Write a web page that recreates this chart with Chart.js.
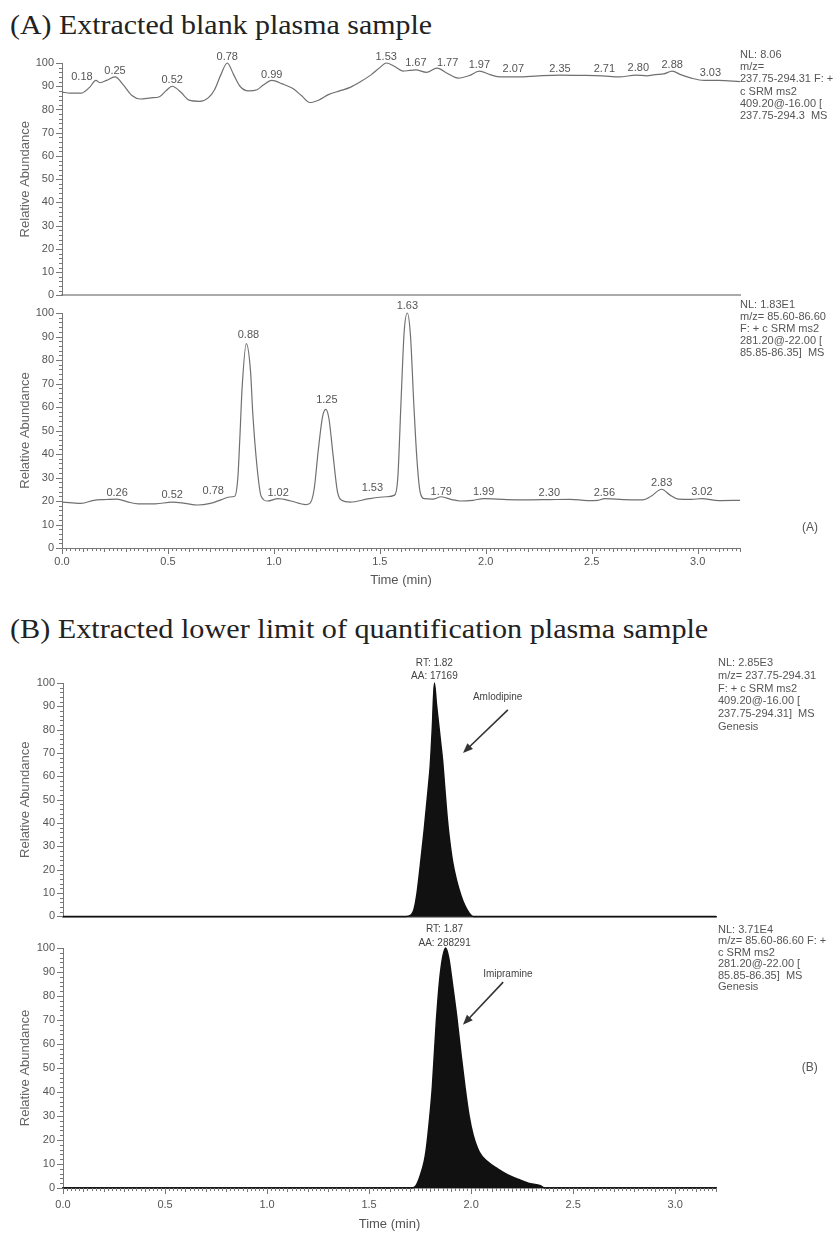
<!DOCTYPE html>
<html><head><meta charset="utf-8">
<script src="https://cdn.jsdelivr.net/npm/chart.js@4.4.1/dist/chart.umd.min.js"></script>
<style>
html,body{margin:0;padding:0;background:#fff;}
body{width:840px;height:1233px;position:relative;overflow:hidden;}
.title{position:absolute;left:10px;font-family:"Liberation Serif","Times New Roman",serif;font-size:27px;color:#222;white-space:nowrap;line-height:1;transform-origin:0 0;}
canvas{position:absolute;left:0;}
</style></head><body>
<div class="title" id="tA" style="top:12px">(A) Extracted blank plasma sample</div>
<div class="title" id="tB" style="top:616px">(B) Extracted lower limit of quantification plasma sample</div>
<canvas id="c1" width="840" height="270" style="top:40px"></canvas>
<canvas id="c2" width="840" height="294" style="top:298px"></canvas>
<canvas id="c3" width="840" height="281" style="top:650px"></canvas>
<canvas id="c4" width="840" height="315" style="top:918px"></canvas>
<script>
// ---------- data ----------
const xTickValues = [0, 0.5, 1.0, 1.5, 2.0, 2.5, 3.0];
const xTickLabels = ['0.0', '0.5', '1.0', '1.5', '2.0', '2.5', '3.0'];
const yTickValues = [0, 10, 20, 30, 40, 50, 60, 70, 80, 90, 100];
const yTickLabels = ['0', '10', '20', '30', '40', '50', '60', '70', '80', '90', '100'];

// (A) blank plasma, m/z 237.75-294.31
const aTopTime = [0.00,0.04,0.09,0.13,0.16,0.18,0.21,0.25,0.29,0.33,0.37,0.42,0.46,0.49,0.52,0.56,0.60,0.65,0.69,0.72,0.75,0.78,0.81,0.84,0.88,0.92,0.95,0.99,1.04,1.09,1.13,1.17,1.21,1.26,1.31,1.36,1.41,1.46,1.50,1.53,1.57,1.61,1.64,1.67,1.72,1.77,1.82,1.87,1.92,1.97,2.02,2.07,2.15,2.25,2.35,2.45,2.55,2.63,2.71,2.76,2.80,2.84,2.88,2.92,2.97,3.03,3.10,3.20];
const aTopVal = [87.5,87,87,89.5,92.5,91.5,92.5,94,90.5,86,84.5,85,85.5,88,90,87.5,84,83.5,85,88.5,95,100,95,90,88,88.5,90.5,92.5,91,89,86,83,84,86.5,88,89.5,92,95,98,100,98.5,96.5,96.8,97,96,97.8,95.5,93.5,94.5,96.5,95,94,94,94.5,94.8,94.7,94.5,94,94.8,94.5,95,95.3,96.5,95,93.5,92.5,92.5,92];
const aTopPeakTimes = [0.18,0.25,0.52,0.78,0.99,1.53,1.67,1.77,1.97,2.07,2.35,2.71,2.80,2.88,3.03];
const aTopPeakHeights = [91.1,93.6,89.8,99.6,92,99.6,97,97,96.2,94.5,94.5,94.5,94.9,96.2,92.8];

// (A) blank plasma, m/z 85.60-86.60
const aBotTime = [0.00,0.05,0.09,0.15,0.20,0.26,0.31,0.36,0.44,0.52,0.58,0.64,0.70,0.75,0.79,0.815,0.83,0.84,0.85,0.87,0.89,0.90,0.92,0.94,0.97,1.02,1.08,1.15,1.17,1.19,1.21,1.23,1.245,1.26,1.28,1.30,1.32,1.36,1.45,1.53,1.57,1.585,1.60,1.615,1.63,1.645,1.66,1.675,1.69,1.71,1.75,1.79,1.84,1.88,1.94,1.99,2.10,2.20,2.30,2.40,2.48,2.53,2.56,2.65,2.74,2.78,2.83,2.87,2.91,2.97,3.02,3.10,3.20];
const aBotVal = [19.5,19.2,19,20.3,20.6,20.8,19.6,18.8,18.8,19.5,19,18.3,19,20.5,21.7,22,30,48,68,87,75,58,35,22,20,21,20,18.5,19,25,42,56,59,55,39,24,20.3,19.5,21,21.8,22.5,30,62,92,100,90,62,38,24,21,20.8,21.8,20.6,20,20.3,21,20.6,20.5,20.6,20.7,20.2,20.3,21,20.6,20.5,22,25,22.5,20.8,20.7,21,20.2,20.3];
const aBotPeakTimes = [0.26,0.52,0.78,0.88,1.02,1.25,1.53,1.63,1.79,1.99,2.30,2.56,2.83,3.02];
const aBotPeakHeights = [20.4,19.6,21.3,87.7,20.4,60,22.6,100,20.9,20.9,20.4,20.4,24.7,20.9];

// (B) LLOQ plasma, amlodipine m/z 237.75-294.31
const bTopTime = [0,1.68,1.70,1.72,1.735,1.75,1.77,1.79,1.80,1.81,1.82,1.83,1.84,1.85,1.86,1.87,1.88,1.89,1.91,1.93,1.95,1.97,1.99,2.01,3.20];
const bTopVal = [0,0,0.3,3,10,21,37,55,65,81,100,91,83,75,67,56,45,36,23,15,9,4.5,1.5,0,0];

// (B) LLOQ plasma, imipramine m/z 85.60-86.60
const bBotTime = [0,1.71,1.73,1.75,1.77,1.78,1.80,1.81,1.83,1.85,1.875,1.89,1.91,1.93,1.95,1.97,1.99,2.01,2.04,2.08,2.13,2.18,2.22,2.28,2.34,2.36,3.20];
const bBotVal = [0,0,1,5,11,16,32,42,70,90,100,96,84,71,56,42,30,22,15,11,8,5.5,4,2,1,0,0];

// ---------- plugins ----------
const FONT = '"Liberation Sans", Arial, sans-serif';
Chart.defaults.font.family = FONT;
Chart.defaults.color = '#555';

const rulerPlugin = {
  id: 'ruler',
  afterDraw(chart, args, o) {
    const ctx = chart.ctx, xs = chart.scales.x, ys = chart.scales.y, ca = chart.chartArea;
    ctx.save();
    ctx.strokeStyle = '#777';
    ctx.lineWidth = 1;
    for (let v = 0; v <= 100; v += 2) {
      const y = Math.round(ys.getPixelForValue(v)) + 0.5;
      const len = v % 10 === 0 ? 6 : 3;
      ctx.beginPath(); ctx.moveTo(ca.left - len, y); ctx.lineTo(ca.left, y); ctx.stroke();
    }
    if (o && o.xRuler) {
      for (let i = 0; i <= 160; i++) {
        const x = Math.round(xs.getPixelForValue(i * 0.02)) + 0.5;
        const len = i % 25 === 0 ? 6 : (i % 5 === 0 ? 4 : 3);
        ctx.beginPath(); ctx.moveTo(x, ca.bottom); ctx.lineTo(x, ca.bottom + len); ctx.stroke();
      }
    }
    ctx.restore();
  }
};

const notesPlugin = {
  id: 'notes',
  afterDraw(chart, args, o) {
    if (!o) return;
    const ctx = chart.ctx, xs = chart.scales.x, ys = chart.scales.y, ca = chart.chartArea;
    ctx.save();
    ctx.textBaseline = 'middle';
    if (o.peaks) {
      ctx.font = '11px ' + FONT; ctx.fillStyle = '#555'; ctx.textAlign = 'center';
      o.peaks.times.forEach((t, i) => {
        const lbl = t.toFixed(2);
        const dt = (o.peaks.shift && o.peaks.shift[lbl]) || 0;
        ctx.fillText(lbl, xs.getPixelForValue(t + dt), ys.getPixelForValue(o.peaks.heights[i]) - 7);
      });
    }
    if (o.side) {
      ctx.font = '11px ' + FONT; ctx.fillStyle = '#555'; ctx.textAlign = 'left';
      o.side.lines.forEach((s, i) => ctx.fillText(s, ca.right + o.side.dx, ca.top + o.side.dy + i * o.side.lh));
    }
    (o.texts || []).forEach(tx => {
      ctx.font = tx.font; ctx.fillStyle = tx.color; ctx.textAlign = 'center';
      ctx.fillText(tx.text, xs.getPixelForValue(tx.t), ys.getPixelForValue(tx.v));
    });
    (o.arrows || []).forEach(a => {
      const x1 = xs.getPixelForValue(a.t1), y1 = ys.getPixelForValue(a.v1);
      const x2 = xs.getPixelForValue(a.t2), y2 = ys.getPixelForValue(a.v2);
      const ang = Math.atan2(y2 - y1, x2 - x1), hl = 10, hw = 4;
      ctx.strokeStyle = '#333'; ctx.fillStyle = '#333'; ctx.lineWidth = 1.6;
      ctx.beginPath(); ctx.moveTo(x1, y1);
      ctx.lineTo(x2 - Math.cos(ang) * hl * 0.8, y2 - Math.sin(ang) * hl * 0.8); ctx.stroke();
      ctx.beginPath(); ctx.moveTo(x2, y2);
      ctx.lineTo(x2 - Math.cos(ang) * hl - Math.sin(ang) * hw, y2 - Math.sin(ang) * hl + Math.cos(ang) * hw);
      ctx.lineTo(x2 - Math.cos(ang) * hl + Math.sin(ang) * hw, y2 - Math.sin(ang) * hl - Math.cos(ang) * hw);
      ctx.closePath(); ctx.fill();
    });
    ctx.restore();
  }
};

function panel(id, cfg) {
  return new Chart(document.getElementById(id), {
    type: 'line',
    data: { datasets: [{
      data: cfg.time.map((t, i) => ({ x: t, y: cfg.vals[i] })),
      borderColor: cfg.color, borderWidth: cfg.lw,
      backgroundColor: cfg.fill ? cfg.color : 'transparent',
      fill: cfg.fill ? 'origin' : false,
      pointRadius: 0, cubicInterpolationMode: 'monotone', clip: 4
    }]},
    options: {
      responsive: false, animation: false, devicePixelRatio: 1,
      layout: { padding: { left: 0, right: cfg.padR, top: cfg.padT, bottom: 0 } },
      plugins: { legend: { display: false }, tooltip: { enabled: false },
                 notes: cfg.notes, ruler: { xRuler: cfg.xLabels } },
      scales: {
        x: {
          type: 'linear', min: 0, max: 3.2,
          afterBuildTicks: s => { s.ticks = xTickValues.map(v => ({ value: v })); },
          afterFit: s => { s.height = cfg.xH; },
          grid: { display: false, drawTicks: false },
          border: { display: true, color: cfg.xBorder, width: cfg.xBorderW },
          ticks: { display: cfg.xLabels, padding: cfg.xPad || 0, font: { size: 11 }, color: '#555',
                   maxRotation: 0, autoSkip: false, callback: (v, i) => xTickLabels[i] },
          title: { display: cfg.xLabels, text: 'Time (min)', font: { size: 13 }, color: '#555',
                   padding: { top: 0, bottom: cfg.xTitlePad || 0 } }
        },
        y: {
          min: 0, max: 100,
          afterBuildTicks: s => { s.ticks = yTickValues.map(v => ({ value: v })); },
          afterFit: s => { s.width = cfg.yW; },
          grid: { display: false, drawTicks: false },
          border: { display: true, color: '#777', width: 1 },
          ticks: { padding: 8, font: { size: 11 }, color: '#555', autoSkip: false,
                   callback: (v, i) => yTickLabels[i] },
          title: { display: true, text: 'Relative Abundance', font: { size: 13 }, color: '#666',
                   padding: { top: 18, bottom: 0 } }
        }
      }
    },
    plugins: [rulerPlugin, notesPlugin]
  });
}

panel('c1', {
  time: aTopTime, vals: aTopVal, color: '#707070', lw: 1.2, fill: false,
  padT: 23, padR: 100, xH: 11, yW: 62, xLabels: false, xBorder: '#aaa', xBorderW: 2,
  notes: {
    peaks: { times: aTopPeakTimes, heights: aTopPeakHeights,
             shift: { '0.18': -0.086, '1.77': 0.05, '2.07': 0.06, '2.71': -0.15, '2.80': -0.08, '3.03': 0.03 } },
    side: { dx: 0, dy: -8, lh: 12.2,
            lines: ['NL: 8.06', 'm/z=', '237.75-294.31 F: +', 'c SRM ms2', '409.20@-16.00 [', '237.75-294.3  MS'] }
  }
});

panel('c2', {
  time: aBotTime, vals: aBotVal, color: '#707070', lw: 1.2, fill: false,
  padT: 15, padR: 100, xH: 44, yW: 62, xLabels: true, xBorder: '#777', xBorderW: 1, xPad: 7, xTitlePad: 4,
  notes: {
    peaks: { times: aBotPeakTimes, heights: aBotPeakHeights, shift: { '0.78': -0.066, '1.53': -0.065 } },
    side: { dx: 0, dy: -8, lh: 12,
            lines: ['NL: 1.83E1', 'm/z= 85.60-86.60', 'F: + c SRM ms2', '281.20@-22.00 [', '85.85-86.35]  MS'] },
    texts: [{ text: '(A)', t: 3.53, v: 8.5, font: '12px ' + FONT, color: '#555' }]
  }
});

panel('c3', {
  time: bTopTime, vals: bTopVal, color: '#111', lw: 1.5, fill: true,
  padT: 33, padR: 124, xH: 8, yW: 63, xLabels: false, xBorder: '#333', xBorderW: 1.5,
  notes: {
    side: { dx: 2, dy: -20, lh: 12.8,
            lines: ['NL: 2.85E3', 'm/z= 237.75-294.31', 'F: + c SRM ms2', '409.20@-16.00 [', '237.75-294.31]  MS', 'Genesis'] },
    texts: [
      { text: 'RT: 1.82', t: 1.82, v: 108.3, font: '10px ' + FONT, color: '#444' },
      { text: 'AA: 17169', t: 1.82, v: 102.9, font: '10px ' + FONT, color: '#444' },
      { text: 'Amlodipine', t: 2.13, v: 94, font: '10px ' + FONT, color: '#444' }
    ],
    arrows: [{ t1: 2.18, v1: 88.5, t2: 1.96, v2: 70 }]
  }
});

panel('c4', {
  time: bBotTime, vals: bBotVal, color: '#111', lw: 1.5, fill: true,
  padT: 30, padR: 124, xH: 45, yW: 63, xLabels: true, xBorder: '#333', xBorderW: 1.5, xPad: 10, xTitlePad: 1,
  notes: {
    side: { dx: 2, dy: -18, lh: 11.4,
            lines: ['NL: 3.71E4', 'm/z= 85.60-86.60 F: +', 'c SRM ms2', '281.20@-22.00 [', '85.85-86.35]  MS', 'Genesis'] },
    texts: [
      { text: 'RT: 1.87', t: 1.87, v: 107.9, font: '10px ' + FONT, color: '#444' },
      { text: 'AA: 288291', t: 1.87, v: 102.1, font: '10px ' + FONT, color: '#444' },
      { text: 'Imipramine', t: 2.18, v: 89, font: '10px ' + FONT, color: '#444' },
      { text: '(B)', t: 3.66, v: 50, font: '12px ' + FONT, color: '#555' }
    ],
    arrows: [{ t1: 2.157, v1: 85.8, t2: 1.96, v2: 68 }]
  }
});

// fit titles to the reference widths
[['tA', 422], ['tB', 698]].forEach(([id, w]) => {
  const el = document.getElementById(id);
  const nat = el.getBoundingClientRect().width;
  el.style.transform = 'scaleX(' + (w / nat).toFixed(3) + ')';
});
</script>
</body></html>
